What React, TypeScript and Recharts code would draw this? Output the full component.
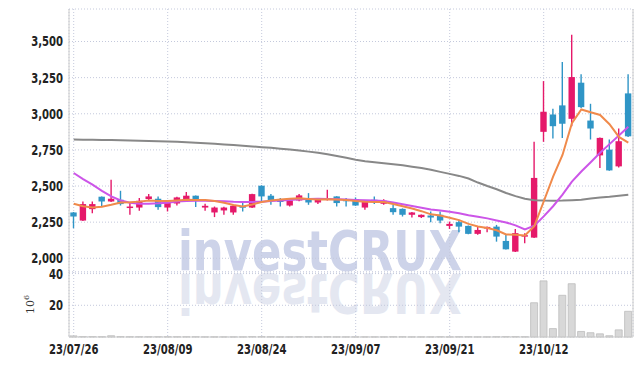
import { ComposedChart, Bar, Line, XAxis, YAxis, CartesianGrid } from 'recharts';

const dates = [
  '23/07/26', '23/07/27', '23/07/28', '23/07/31', '23/08/01', '23/08/02', '23/08/03', '23/08/04', '23/08/07', '23/08/08',
  '23/08/09', '23/08/10', '23/08/11', '23/08/14', '23/08/16', '23/08/17', '23/08/18', '23/08/21', '23/08/22', '23/08/23',
  '23/08/24', '23/08/25', '23/08/28', '23/08/29', '23/08/30', '23/08/31', '23/09/01', '23/09/04', '23/09/05', '23/09/06',
  '23/09/07', '23/09/08', '23/09/11', '23/09/12', '23/09/13', '23/09/14', '23/09/15', '23/09/18', '23/09/19', '23/09/20',
  '23/09/21', '23/09/22', '23/09/25', '23/09/26', '23/09/27', '23/10/04', '23/10/05', '23/10/06', '23/10/10', '23/10/11',
  '23/10/12', '23/10/13', '23/10/16', '23/10/17', '23/10/18', '23/10/19', '23/10/20', '23/10/23', '23/10/24', '23/10/25',
];

const opens = [
  2317, 2261, 2340, 2426, 2393, 2405, 2351, 2351, 2410, 2412,
  2351, 2379, 2410, 2433, 2351, 2317, 2331, 2317, 2360, 2351,
  2502, 2433, 2400, 2365, 2400, 2417, 2386, 2405, 2428, 2405,
  2410, 2351, 2405, 2377, 2347, 2342, 2301, 2285, 2296, 2301,
  2224, 2250, 2224, 2169, 2206, 2219, 2120, 2046, 2150, 2143,
  2875, 2995, 3058, 2965, 3215, 2953, 2712, 2752, 2636, 3141,
];
const highs = [
  2320, 2393, 2393, 2428, 2544, 2467, 2382, 2417, 2444, 2428,
  2392, 2425, 2458, 2435, 2377, 2358, 2356, 2368, 2382, 2447,
  2505, 2444, 2417, 2403, 2444, 2451, 2412, 2474, 2430, 2417,
  2421, 2400, 2428, 2408, 2370, 2345, 2320, 2303, 2324, 2324,
  2254, 2266, 2226, 2224, 2220, 2231, 2162, 2203, 2174, 2806,
  3226, 3035, 3358, 3546, 3273, 3069, 2835, 2822, 2898, 3273,
];
const lows = [
  2208, 2258, 2312, 2358, 2390, 2365, 2301, 2328, 2398, 2335,
  2324, 2365, 2398, 2354, 2328, 2285, 2301, 2301, 2324, 2348,
  2393, 2370, 2358, 2358, 2395, 2370, 2375, 2400, 2358, 2358,
  2363, 2335, 2375, 2370, 2301, 2289, 2282, 2278, 2250, 2243,
  2203, 2180, 2166, 2162, 2180, 2115, 2060, 2043, 2104, 2140,
  2806, 2828, 2833, 2914, 3040, 2822, 2625, 2606, 2629, 2840,
];
const closes = [
  2289, 2375, 2375, 2393, 2412, 2375, 2358, 2398, 2428, 2354,
  2389, 2421, 2433, 2398, 2363, 2351, 2351, 2363, 2356, 2444,
  2428, 2400, 2394, 2400, 2435, 2386, 2410, 2417, 2382, 2400,
  2365, 2398, 2396, 2398, 2319, 2301, 2317, 2301, 2282, 2261,
  2238, 2219, 2169, 2196, 2217, 2150, 2062, 2174, 2160, 2556,
  3014, 2914, 2931, 3254, 3046, 2898, 2833, 2608, 2810, 2844,
];

// volume in millions of shares
const volumes = [
  0.7, 0.3, 0.3, 0.2, 0.8, 0.3, 0.2, 0.2, 0.2, 0.2,
  0.2, 0.2, 0.2, 0.2, 0.1, 0.1, 0.1, 0.1, 0.1, 0.3,
  0.3, 0.2, 0.1, 0.1, 0.2, 0.2, 0.1, 0.2, 0.1, 0.1,
  0.1, 0.1, 0.1, 0.1, 0.2, 0.2, 0.1, 0.1, 0.1, 0.2,
  0.1, 0.2, 0.2, 0.1, 0.1, 0.2, 0.3, 0.3, 0.2, 21.6,
  35.4, 5.3, 26.3, 33.6, 3.5, 2.7, 2.0, 0.8, 4.5, 16.2,
];

const ma5 = [
  2377, 2360, 2352, 2356, 2370, 2386, 2388, 2392, 2400, 2396,
  2396, 2400, 2405, 2404, 2404, 2396, 2384, 2368, 2358, 2372,
  2390, 2400, 2406, 2412, 2415, 2410, 2406, 2408, 2406, 2403,
  2396, 2392, 2390, 2390, 2376, 2360, 2344, 2326, 2304, 2296,
  2280, 2264, 2238, 2220, 2210, 2194, 2165, 2162, 2158, 2222,
  2393, 2565, 2715, 2935, 3030, 3010, 2992, 2928, 2840, 2800,
];
const ma20 = [
  2590, 2548, 2509, 2466, 2428, 2400, 2384, 2378, 2377, 2380,
  2385, 2392, 2397, 2398, 2398, 2397, 2394, 2391, 2390, 2390,
  2392, 2396, 2400, 2404, 2408, 2411, 2412, 2410, 2408, 2406,
  2404, 2402, 2400, 2396, 2386, 2374, 2362, 2350, 2338, 2330,
  2322, 2312, 2298, 2287, 2276, 2262, 2248, 2228, 2200, 2225,
  2290, 2360, 2440, 2530, 2600, 2665, 2730, 2790, 2850, 2910,
];
const ma60 = [
  2822, 2821, 2820, 2819, 2818, 2817, 2815, 2814, 2812, 2810,
  2808, 2806, 2803, 2800, 2796, 2792, 2788, 2784, 2779, 2774,
  2769, 2764, 2758, 2752, 2745, 2738, 2730, 2720, 2708, 2695,
  2682, 2672, 2665, 2658, 2651, 2643, 2634, 2624, 2612, 2598,
  2584, 2570, 2552, 2524, 2500, 2478, 2452, 2430, 2412, 2402,
  2399, 2398, 2399, 2402, 2405, 2414, 2420, 2425, 2432, 2440,
];

const tickDates = ['23/07/26', '23/08/09', '23/08/24', '23/09/07', '23/09/21', '23/10/12'];
const priceTicks = [2000, 2250, 2500, 2750, 3000, 3250, 3500];
const volumeTicks = [20, 40];

const RED = '#e5196a';
const BLUE = '#2f95c6';
const GRID = '#c4c9dc';
const BORDER = '#cccccc';
const FONT = "'DejaVu Sans Condensed', sans-serif";

const rows = dates.map((date, i) => ({
  date,
  open: opens[i],
  high: highs[i],
  low: lows[i],
  close: closes[i],
  range: [lows[i], highs[i]],
  volume: volumes[i],
  ma5: ma5[i],
  ma20: ma20[i],
  ma60: ma60[i],
}));

const Candle = (props: any) => {
  const { x, y, width, height, payload } = props;
  const { open, close, high, low } = payload;
  const ratio = height / (high - low);
  const cx = x + width / 2;
  const yOpen = y + (high - open) * ratio;
  const yClose = y + (high - close) * ratio;
  const color = close >= open ? RED : BLUE;
  const top = Math.min(yOpen, yClose);
  const h = Math.max(1.5, Math.abs(yOpen - yClose));
  return (
    <g>
      <line x1={cx} x2={cx} y1={y} y2={y + height} stroke={color} strokeWidth={1.4} />
      <rect x={cx - 3.2} y={top} width={6.4} height={h} fill={color} />
    </g>
  );
};

const fmt = (v: number) => v.toLocaleString('en-US');

// narrow bold tick labels, squeezed horizontally around their anchor
const YTick = (props: any) => {
  const { x, y, payload } = props;
  return (
    <text transform={`translate(${x},${y}) scale(0.8,1)`} textAnchor="end" dominantBaseline="central"
      fontFamily={FONT} fontWeight="bold" fontSize={14} fill="#222">
      {fmt(payload.value)}
    </text>
  );
};

const XTick = (props: any) => {
  const { x, y, payload } = props;
  return (
    <text transform={`translate(${x},${y + 12}) scale(0.8,1)`} textAnchor="middle" dominantBaseline="central"
      fontFamily={FONT} fontWeight="bold" fontSize={14} fill="#222">
      {payload.value}
    </text>
  );
};

export default function App() {
  return (
    <div style={{ position: 'absolute', left: 0, top: 0, width: 643, height: 366, background: '#fff' }}>
      <svg width={643} height={366} style={{ position: 'absolute', left: 0, top: 0 }}>
        <text
          x={320}
          y={270}
          textAnchor="middle"
          fontFamily="'DejaVu Sans', sans-serif"
          fontWeight="bold"
          fontSize={56}
          fill="#cdd3e9"
          textLength={284}
          lengthAdjust="spacingAndGlyphs"
        >
          investCRUX
        </text>
        <text
          x={320}
          y={270}
          transform="translate(0,544) scale(1,-1)"
          textAnchor="middle"
          fontFamily="'DejaVu Sans', sans-serif"
          fontWeight="bold"
          fontSize={56}
          fill="#e4e7f1"
          textLength={284}
          lengthAdjust="spacingAndGlyphs"
        >
          investCRUX
        </text>
      </svg>

      <div style={{ position: 'absolute', left: 0, top: 0 }}>
        <ComposedChart width={643} height={272} data={rows} margin={{ top: 9, right: 9, bottom: 0, left: 0 }} barCategoryGap={0}>
          <CartesianGrid stroke={GRID} strokeDasharray="1 2" />
          <XAxis dataKey="date" hide ticks={tickDates} interval={0} />
          <XAxis xAxisId="top" dataKey="date" orientation="top" height={0} tick={false} tickLine={false} axisLine={{ stroke: BORDER }} />
          <YAxis
            domain={[1905, 3725]}
            ticks={priceTicks}
            interval={0}
            width={69}
            tickLine={false}
            tickSize={0}
            tickMargin={6}
            axisLine={{ stroke: BORDER }}
            tick={<YTick />}
          />
          <YAxis yAxisId="r" orientation="right" width={1} tick={false} tickLine={false} axisLine={{ stroke: BORDER }} />
          <Bar dataKey="range" shape={Candle} isAnimationActive={false} />
          <Line dataKey="ma60" stroke="#888888" strokeWidth={2} dot={false} isAnimationActive={false} />
          <Line dataKey="ma20" stroke="#cc55e8" strokeWidth={2} dot={false} isAnimationActive={false} />
          <Line dataKey="ma5" stroke="#f08a4b" strokeWidth={2} dot={false} isAnimationActive={false} />
        </ComposedChart>
      </div>

      <div style={{ position: 'absolute', left: 0, top: 261 }}>
        <ComposedChart width={643} height={105} data={rows} margin={{ top: 11, right: 9, bottom: 0, left: 0 }} barCategoryGap={1}>
          <CartesianGrid stroke={GRID} strokeDasharray="1 2" />
          <XAxis
            dataKey="date"
            ticks={tickDates}
            interval={0}
            height={29}
            tickLine={false}
            tickSize={0}
            tickMargin={0}
            axisLine={{ stroke: BORDER }}
            tick={<XTick />}
          />
          <XAxis xAxisId="top" dataKey="date" orientation="top" height={0} tick={false} tickLine={false} axisLine={{ stroke: BORDER }} />
          <YAxis
            domain={[0, 41]}
            ticks={volumeTicks}
            interval={0}
            width={69}
            tickLine={false}
            tickSize={0}
            tickMargin={6}
            axisLine={{ stroke: BORDER }}
            tick={<YTick />}
            label={(p: any) => {
              const vb = p.viewBox || {};
              const cy = (vb.y || 0) + (vb.height || 0) / 2;
              return (
                <text transform={`translate(34, ${cy}) rotate(-90)`} textAnchor="middle" fontFamily="'DejaVu Serif', serif" fontSize={11} fill="#333">
                  10<tspan dy={-5} fontSize={8}>6</tspan>
                </text>
              );
            }}
          />
          <YAxis yAxisId="r" orientation="right" width={1} tick={false} tickLine={false} axisLine={{ stroke: BORDER }} />
          <Bar dataKey="volume" fill="#d8d8d8" stroke="#bcbcbc" strokeWidth={0.8} isAnimationActive={false} />
        </ComposedChart>
      </div>
    </div>
  );
}
